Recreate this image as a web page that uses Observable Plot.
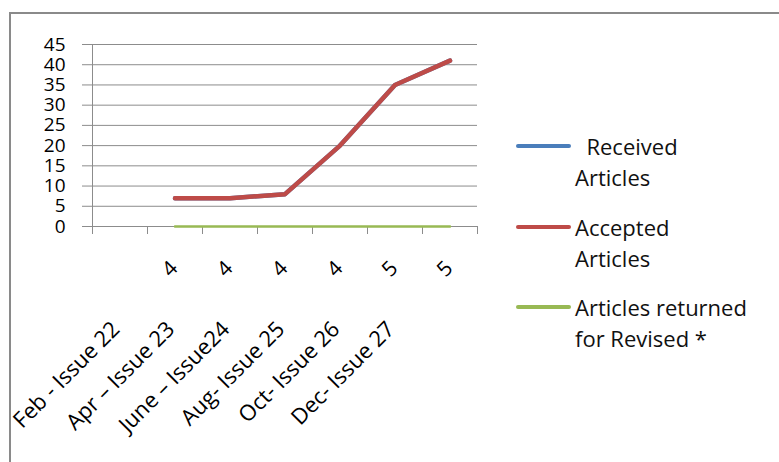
<!DOCTYPE html>
<html><head><meta charset="utf-8">
<script src="https://cdn.jsdelivr.net/npm/d3@7"></script>
<script src="https://cdn.jsdelivr.net/npm/@observablehq/plot@0.6"></script>
<style>
body{margin:0;background:#fff;font-family:"Open Sans",sans-serif;}
#frame{position:absolute;left:9px;top:12px;width:770px;height:450px;border-left:2px solid #8a8a8a;border-top:2px solid #8a8a8a;overflow:hidden;}
.leg{position:absolute;left:575px;font-size:22px;line-height:31px;color:#111;white-space:pre;}
.sw{position:absolute;left:516px;width:55px;height:4px;border-radius:2px;}
</style></head><body>
<div id="frame"></div>
<div id="legend"></div>
<script>
const categories = ["", "Feb - Issue 22", "Apr \u2013 Issue 23", "June \u2013 Issue24", "Aug- Issue 25", "Oct- Issue 26", "Dec- Issue 27"];
const volumes = ["", "4", "4", "4", "4", "5", "5"];
const received = [null, 7, 7, 8, 20, 35, 41];
const accepted = [null, 7, 7, 8, 20, 35, 41];
const returned = [null, 0, 0, 0, 0, 0, 0];
const yTicks = [0, 5, 10, 15, 20, 25, 30, 35, 40, 45];
const seriesNames = ["Received Articles", "Accepted Articles", "Articles returned for Revised *"];
const seriesLines = [["  Received", "Articles"], ["Accepted", "Articles"], ["Articles returned", "for Revised *"]];
const seriesColors = ["#4a7ebb", "#be4b48", "#98b954"];

const rows = categories.map((c, i) => ({i, category: c, volume: volumes[i], received: received[i], accepted: accepted[i], returned: returned[i]}));
const shown = rows.filter(d => d.accepted != null);
const xc = d => d.i + 0.5;

const chart = Plot.plot({
  width: 768, height: 448,
  marginLeft: 81, marginRight: 302, marginTop: 30, marginBottom: 236,
  style: {fontFamily: "Open Sans", background: "transparent", color: "#000", overflow: "visible"},
  x: {domain: [0, categories.length], axis: null},
  y: {domain: [0, 45], axis: null},
  marks: [
    Plot.gridY(yTicks, {stroke: "#8c8c8c", strokeOpacity: 1}),
    Plot.axisY(yTicks, {tickSize: 10, tickPadding: 17, stroke: "#8c8c8c", fontSize: 19, fill: "#000", label: null}),
    Plot.axisX(d3.range(0, categories.length + 1), {tickSize: 8, tickFormat: () => "", stroke: "#8c8c8c", label: null}),
    Plot.ruleX([0], {stroke: "#8c8c8c"}),
    Plot.line(shown, {x: xc, y: "received", stroke: seriesColors[0], strokeWidth: 4.5}),
    Plot.line(shown, {x: xc, y: "accepted", stroke: seriesColors[1], strokeWidth: 4.5}),
    Plot.line(shown, {x: xc, y: "returned", stroke: seriesColors[2], strokeWidth: 2.5}),
    Plot.text(shown, {x: xc, text: "volume", frameAnchor: "bottom", rotate: -45, textAnchor: "end", lineAnchor: "bottom", dx: 4, dy: 43, fontSize: 21, fill: "#000"}),
    Plot.text(shown, {x: xc, text: "category", frameAnchor: "bottom", rotate: -45, textAnchor: "end", lineAnchor: "bottom", dx: -54, dy: 104, fontSize: 22, fill: "#000"})
  ]
});
document.getElementById("frame").appendChild(chart);

const legend = document.getElementById("legend");
const legY = [146, 227, 307];
seriesNames.forEach((name, k) => {
  const sw = document.createElement("div");
  sw.className = "sw";
  sw.style.top = (legY[k] - 2) + "px";
  sw.style.background = seriesColors[k];
  sw.title = name;
  legend.appendChild(sw);
  const t = document.createElement("div");
  t.className = "leg";
  t.style.top = (legY[k] - 15.5) + "px";
  t.textContent = seriesLines[k].join("\n");
  legend.appendChild(t);
});
</script>
</body></html>
